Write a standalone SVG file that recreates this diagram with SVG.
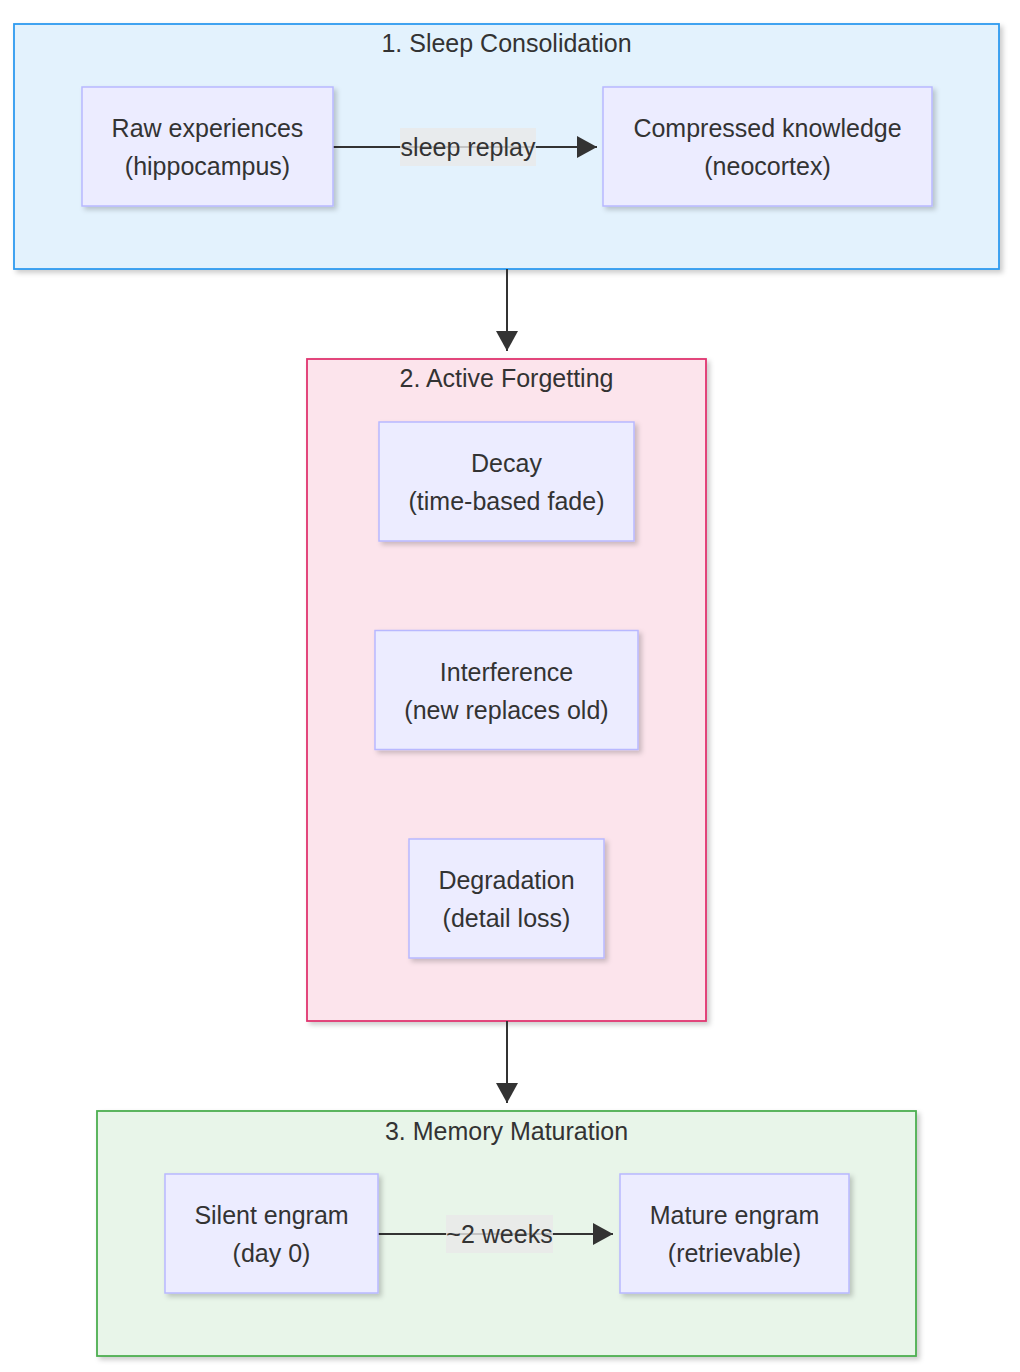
<svg xmlns="http://www.w3.org/2000/svg" width="1020" height="1372" viewBox="0 0 1020 1372">
<defs>
<filter id="sh" x="-10%" y="-10%" width="130%" height="130%">
<feDropShadow dx="3" dy="3" stdDeviation="2.5" flood-color="#000" flood-opacity="0.2"/>
</filter>
<marker id="ah" markerUnits="userSpaceOnUse" markerWidth="20" markerHeight="22" refX="20" refY="11" orient="auto" viewBox="0 0 20 22">
<path d="M0,0 L20,11 L0,22 z" fill="#333"/>
</marker>
</defs>
<style>
text{font-family:"Liberation Sans",Arial,sans-serif;font-size:25px;fill:#333;text-anchor:middle}
.node rect{fill:#ECECFF;stroke:#B8B8FF;stroke-width:1.5;filter:url(#sh)}
.cl{stroke-width:1.8;filter:url(#sh)}
.edge{stroke:#333;stroke-width:2;fill:none}
.lbl{fill:rgba(232,232,232,0.8)}
</style>
<rect width="1020" height="1372" fill="#fff"/>
<g id="cluster1">
<rect class="cl" x="14" y="24" width="985" height="245" fill="#E3F2FD" stroke="#2E9BF0"/>
<text x="506.5" y="52">1. Sleep Consolidation</text>
</g>
<g id="cluster2">
<rect class="cl" x="307" y="359" width="399" height="662" fill="#FCE4EC" stroke="#E0336F"/>
<text x="506.5" y="387">2. Active Forgetting</text>
</g>
<g id="cluster3">
<rect class="cl" x="97" y="1111" width="819" height="245" fill="#E8F5E9" stroke="#4CAF50"/>
<text x="506.5" y="1140">3. Memory Maturation</text>
</g>
<g id="connectors">
<path class="edge" d="M333,147 L597,147" marker-end="url(#ah)"/>
<rect class="lbl" x="400" y="128" width="136" height="38"/>
<text x="468" y="156">sleep replay</text>
<path class="edge" d="M507,269 L507,351" marker-end="url(#ah)"/>
<path class="edge" d="M507,1021 L507,1103" marker-end="url(#ah)"/>
<path class="edge" d="M378,1234 L613,1234" marker-end="url(#ah)"/>
<rect class="lbl" x="446" y="1215" width="107" height="38"/>
<text x="499.5" y="1243">~2 weeks</text>
</g>
<g id="raw" class="node">
<rect x="82" y="87" width="251" height="119"/>
<text x="207.5" y="137">Raw experiences</text>
<text x="207.5" y="175">(hippocampus)</text>
</g>
<g id="compressed" class="node">
<rect x="603" y="87" width="329" height="119"/>
<text x="767.5" y="137">Compressed knowledge</text>
<text x="767.5" y="175">(neocortex)</text>
</g>
<g id="decay" class="node">
<rect x="379" y="422" width="255" height="119"/>
<text x="506.5" y="472">Decay</text>
<text x="506.5" y="510">(time-based fade)</text>
</g>
<g id="interference" class="node">
<rect x="375" y="630.5" width="263" height="119"/>
<text x="506.5" y="680.5">Interference</text>
<text x="506.5" y="718.5">(new replaces old)</text>
</g>
<g id="degradation" class="node">
<rect x="409" y="839" width="195" height="119"/>
<text x="506.5" y="889">Degradation</text>
<text x="506.5" y="927">(detail loss)</text>
</g>
<g id="silent" class="node">
<rect x="165" y="1174" width="213" height="119"/>
<text x="271.5" y="1224">Silent engram</text>
<text x="271.5" y="1262">(day 0)</text>
</g>
<g id="mature" class="node">
<rect x="620" y="1174" width="229" height="119"/>
<text x="734.5" y="1224">Mature engram</text>
<text x="734.5" y="1262">(retrievable)</text>
</g>
</svg>
